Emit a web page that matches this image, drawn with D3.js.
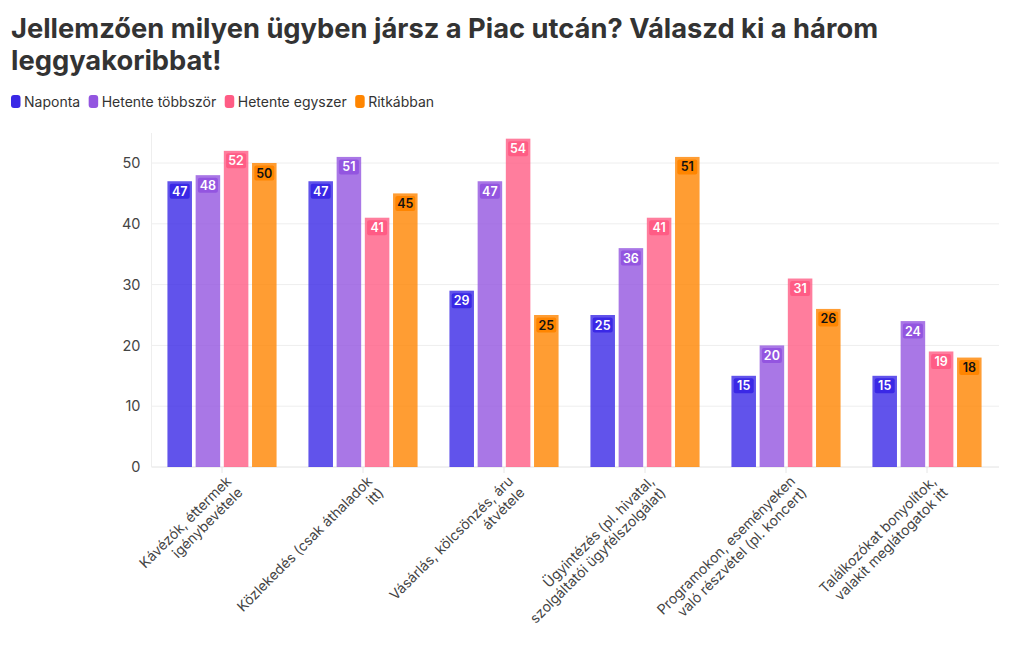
<!DOCTYPE html>
<html><head><meta charset="utf-8">
<script src="https://cdn.jsdelivr.net/npm/d3@7"></script>
<style>
html,body{margin:0;padding:0;background:#fff;}
svg{display:block;font-family:"Inter","Noto Sans",sans-serif;}
</style></head>
<body><svg id="c" width="1020" height="650"></svg>
<script>
const titleLines = ["Jellemzően milyen ügyben jársz a Piac utcán? Válaszd ki a három","leggyakoribbat!"];
const categories = [
  ["Kávézók, éttermek","igénybevétele"],
  ["Közlekedés (csak áthaladok","itt)"],
  ["Vásárlás, kölcsönzés, áru","átvétele"],
  ["Ügyintézés (pl. hivatal,","szolgáltatói ügyfélszolgálat)"],
  ["Programokon, eseményeken","való részvétel (pl. koncert)"],
  ["Találkozókat bonyolítok,","valakit meglátogatok itt"]
];
const seriesNames = ["Naponta","Hetente többször","Hetente egyszer","Ritkábban"];
const naponta = [47,47,29,25,15,15];
const hetenteTobbszor = [48,51,47,36,20,24];
const hetenteEgyszer = [52,41,54,41,31,19];
const ritkabban = [50,45,25,51,26,18];
const yTicks = [0,10,20,30,40,50];

const seriesValues = [naponta, hetenteTobbszor, hetenteEgyszer, ritkabban];
const colors = ["#3A28E6","#9355E0","#FF5C85","#FF8500"];
const labelText = ["#fff","#fff","#fff","#111"];

const svg = d3.select("#c");
const L = 151.5, R = 997.5, B = 467, T = 133;

// title
const title = svg.append("text").attr("x",11).attr("fill","#333")
  .attr("font-size",27.3).attr("font-weight",700);
titleLines.forEach((t,i)=>title.append("tspan").attr("x",11).attr("y",38+i*32).text(t));

// legend
let lx = 11;
const legend = svg.append("g");
seriesNames.forEach((n,i)=>{
  const g = legend.append("g").attr("transform",`translate(${lx},0)`);
  g.append("rect").attr("x",0).attr("y",95).attr("width",9.5).attr("height",13).attr("rx",3).attr("fill",colors[i]);
  const t = g.append("text").attr("x",13).attr("y",107).attr("font-size",14).attr("fill","#333").text(n);
  lx += 13 + t.node().getComputedTextLength() + 8.5;
});

const x0 = d3.scaleBand().domain(d3.range(categories.length)).range([L,R]).paddingInner(0.226).paddingOuter(0.113);
const x1 = d3.scaleBand().domain(d3.range(seriesNames.length)).range([0,x0.bandwidth()]).paddingInner(0.13).paddingOuter(0);
const y = d3.scaleLinear().domain([0,50]).range([B,163]);

// grid
svg.append("g").selectAll("line").data(yTicks).join("line")
  .attr("x1",L).attr("x2",999).attr("y1",d=>y(d)).attr("y2",d=>y(d))
  .attr("stroke",d=>d===0?"#e2e2e2":"#eeeeee").attr("stroke-width",1);
svg.append("line").attr("x1",L).attr("x2",L).attr("y1",T).attr("y2",B).attr("stroke","#eeeeee");

// y axis labels
const yAxis = d3.axisLeft(y).tickValues(yTicks).tickSize(0).tickPadding(11);
const ya = svg.append("g").attr("transform",`translate(${L},0)`).call(yAxis);
ya.select(".domain").remove();
ya.selectAll("text").attr("font-size",14.5).attr("fill","#444").attr("font-family","Inter, 'Noto Sans', sans-serif");

// x ticks
const xc = d => x0(d) + x0.bandwidth()/2;
svg.append("g").selectAll("line").data(d3.range(categories.length)).join("line")
  .attr("x1",xc).attr("x2",xc).attr("y1",B).attr("y2",B+6).attr("stroke","#e6e6e6");

// bars
const groups = svg.append("g").selectAll("g").data(d3.range(categories.length)).join("g")
  .attr("transform",d=>`translate(${x0(d)},0)`);
groups.each(function(ci){
  const g = d3.select(this);
  seriesValues.forEach((vals,si)=>{
    const v = vals[ci];
    const bx = x1(si), bw = x1.bandwidth();
    g.append("rect").attr("x",bx).attr("y",y(v)).attr("width",bw).attr("height",B-y(v))
      .attr("fill",colors[si]).attr("fill-opacity",0.8);
    const cx = bx + bw/2, ty = y(v) + 10;
    g.append("rect").attr("x",cx-10).attr("y",ty-7.5).attr("width",20).attr("height",15).attr("rx",2)
      .attr("fill",colors[si]);
    g.append("text").attr("x",cx).attr("y",ty).attr("dy","0.36em").attr("text-anchor","middle")
      .attr("font-size",12.5).attr("font-weight",600).attr("fill",labelText[si]).text(v);
  });
});

// x labels
svg.append("g").selectAll("g").data(categories).join("g")
  .attr("transform",(d,i)=>`translate(${xc(i)+1},473) rotate(-45)`)
  .each(function(lines){
    const t = d3.select(this).append("text").attr("text-anchor","end").attr("font-size",14).attr("fill","#444");
    lines.forEach((ln,k)=>t.append("tspan").attr("x",0).attr("y",13+k*16).text(ln));
  });
</script>
</body></html>
